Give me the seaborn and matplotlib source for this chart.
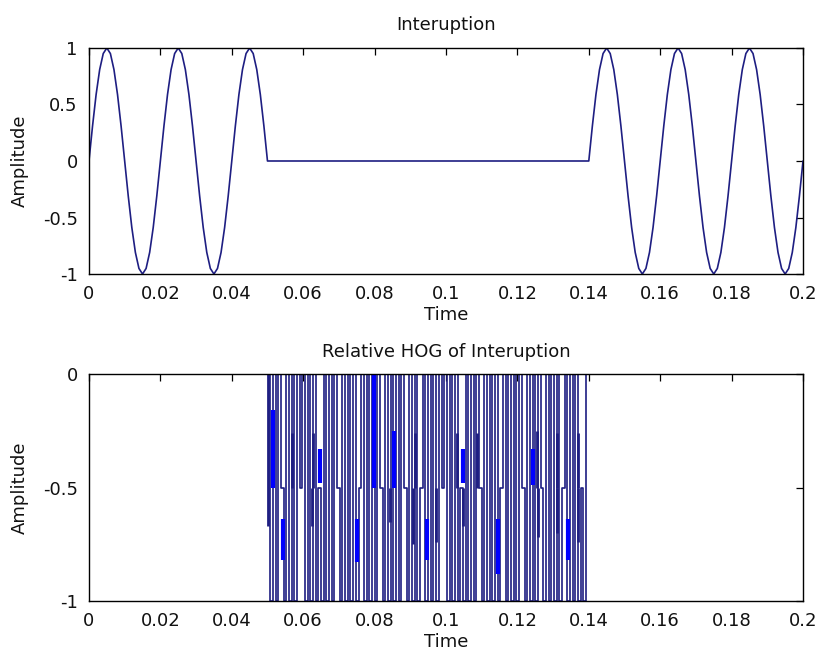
import numpy as np
import pandas as pd
import matplotlib
matplotlib.use("Agg")
import matplotlib.pyplot as plt
import seaborn as sns

# ---------------- data ----------------
# one period of the 50 Hz wave, sampled every 1 ms (values read from the chart)
cycle_amp = [0.0, 0.309, 0.588, 0.809, 0.951, 1.0, 0.951, 0.809, 0.588, 0.309,
             0.0, -0.309, -0.588, -0.809, -0.951, -1.0, -0.951, -0.809, -0.588, -0.309]
sample_step = 0.001
amp_before = cycle_amp + cycle_amp + cycle_amp[:10]          # 0 .. 0.049
amp_gap = [0.0] * 90                                         # 0.05 .. 0.139 (interruption)
amp_after = cycle_amp + cycle_amp + cycle_amp + [0.0]        # 0.14 .. 0.2
amplitude = amp_before + amp_gap + amp_after
time_top = np.arange(len(amplitude)) * sample_step

# relative HOG: step levels (0 -> 0, 1 -> -0.5, 2 -> -1), one level per slot from 0.05 to 0.14
hog_codes = [0, 2, 0, 2, 0, 1, 2, 0, 2, 0, 2, 0, 1, 0, 2, 0, 2, 0, 2, 1,
             2, 0, 2, 0, 2, 0, 1, 2, 0, 2, 0, 2, 0, 2, 1, 0, 2, 0, 2, 0,
             2, 0, 1, 2, 0, 2, 0, 2, 0, 2, 0, 1, 2, 0, 2, 0, 2, 1, 0, 2,
             0, 2, 0, 2, 0, 1, 0, 2, 0, 2, 0, 2, 1, 2, 0, 2, 0, 2, 0, 1,
             2, 0, 2, 0, 2, 0, 2, 1, 0, 2, 0, 2, 0, 2, 0, 1, 2, 0, 2, 0,
             2, 0, 1, 2, 0, 2, 0, 2, 0, 2, 1, 0, 2, 0, 2, 0, 2, 1, 2, 0]
hog_start = 0.05
hog_slot = 0.00075
hog_level_values = {0: 0.0, 1: -0.5, 2: -1.0}

# bright (densely overlapping) short segments: time, upper, lower
bright_t = [0.0515, 0.0543, 0.0647, 0.0751, 0.0798, 0.0854, 0.0947, 0.1048, 0.1146, 0.1244, 0.1342]
bright_hi = [-0.16, -0.64, -0.33, -0.64, 0.0, -0.25, -0.64, -0.33, -0.64, -0.33, -0.64]
bright_lo = [-0.50, -0.82, -0.48, -0.83, -0.5, -0.50, -0.82, -0.48, -0.88, -0.49, -0.82]

# dark partial segments: time, upper, lower
dark_t = [0.0501, 0.0569, 0.0625, 0.0627, 0.0843, 0.0913, 0.0908, 0.0972, 0.1031, 0.1048,
          0.1087, 0.1255, 0.1258, 0.1311, 0.1311, 0.1370, 0.1370]
dark_hi = [0.0, -0.26, -0.5, -0.26, -0.5, -0.26, -0.5, -0.5, -0.26, -0.5,
           -0.26, -0.25, -0.5, -0.26, -0.5, -0.26, -0.5]
dark_lo = [-0.67, -0.5, -0.67, -0.5, -0.65, -0.5, -0.75, -0.74, -0.5, -0.67,
           -0.5, -0.5, -0.72, -0.5, -0.70, -0.5, -0.74]

x_ticks = [0, 0.02, 0.04, 0.06, 0.08, 0.1, 0.12, 0.14, 0.16, 0.18, 0.2]
x_tick_labels = ["0", "0.02", "0.04", "0.06", "0.08", "0.1", "0.12", "0.14", "0.16", "0.18", "0.2"]
top_y_ticks = [-1, -0.5, 0, 0.5, 1]
top_y_labels = ["-1", "-0.5", "0", "0.5", "1"]
bot_y_ticks = [-1, -0.5, 0]
bot_y_labels = ["-1", "-0.5", "0"]

# ---------------- figure ----------------
sns.set_style("white")
plt.rcParams["font.family"] = ["DejaVu Sans"]
plt.rcParams["font.size"] = 13

line_col = "#1e1e82"
bright_col = "#0000ff"
text_col = "#111111"

fig = plt.figure(figsize=(8.23, 6.62), dpi=100)
fig.patch.set_facecolor("white")
ax1 = fig.add_axes([0.1081, 0.5861, 0.8676, 0.3414])
ax2 = fig.add_axes([0.1081, 0.0921, 0.8676, 0.3429])

df_top = pd.DataFrame({"Time": time_top, "Amplitude": amplitude})
sns.lineplot(data=df_top, x="Time", y="Amplitude", ax=ax1, color=line_col,
             lw=1.2, sort=False, estimator=None)

hog_vals = [hog_level_values[c] for c in hog_codes]
hog_vals = hog_vals + [hog_vals[-1]]
hog_time = hog_start + np.arange(len(hog_vals)) * hog_slot
df_bot = pd.DataFrame({"Time": hog_time, "Amplitude": hog_vals})
sns.lineplot(data=df_bot, x="Time", y="Amplitude", ax=ax2, color=line_col,
             lw=1.2, sort=False, estimator=None, drawstyle="steps-post")
ax2.vlines(dark_t, dark_lo, dark_hi, colors=line_col, lw=2.0)
ax2.vlines(bright_t, bright_lo, bright_hi, colors=bright_col, lw=3.0)

for ax, yt, yl in ((ax1, top_y_ticks, top_y_labels), (ax2, bot_y_ticks, bot_y_labels)):
    ax.set_xlim(0, 0.2)
    ax.set_xticks(x_ticks)
    ax.set_xticklabels(x_tick_labels)
    ax.set_yticks(yt)
    ax.set_yticklabels(yl)
    ax.tick_params(direction="in", top=True, right=True, length=5, width=0.9,
                   colors="black", labelcolor=text_col, labelsize=13, pad=8)
    for s in ax.spines.values():
        s.set_visible(True)
        s.set_color("black")
        s.set_linewidth(1.0)
    ax.set_xlabel("Time", fontsize=13, color=text_col, labelpad=2)
    ax.set_ylabel("Amplitude", fontsize=13, color=text_col, labelpad=10)
    ax.grid(False)

ax1.set_ylim(-1, 1)
ax2.set_ylim(-1, 0)
ax1.set_title("Interuption", fontsize=13, color=text_col, pad=13)
ax2.set_title("Relative HOG of Interuption", fontsize=13, color=text_col, pad=12)

fig.savefig("out.png", dpi=100, facecolor="white")
